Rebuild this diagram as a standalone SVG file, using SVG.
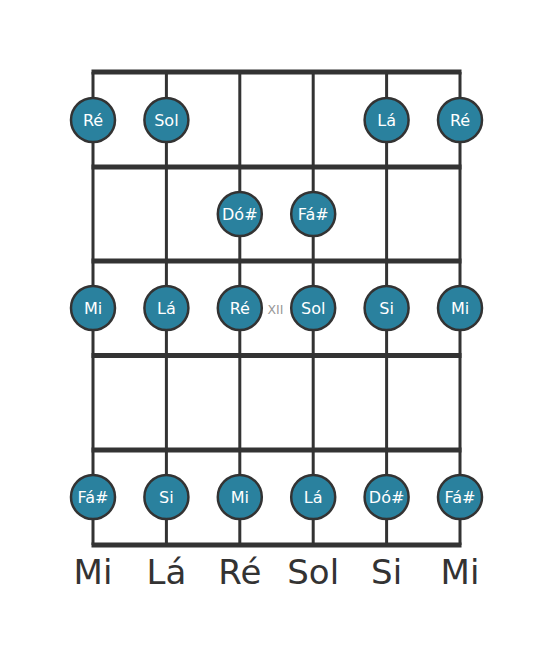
<svg xmlns="http://www.w3.org/2000/svg" width="553" height="656" viewBox="0 0 553 656">
<style>
.str{stroke:#333;stroke-width:3}
.fret{stroke:#333;stroke-width:5}
.n circle{fill:#2a819e;stroke:#333;stroke-width:2.5}
.n text{fill:#fff;font-family:"DejaVu Sans",sans-serif;font-size:16px;text-anchor:middle;dominant-baseline:central}
.lbl{fill:#333;font-family:"DejaVu Sans",sans-serif;font-size:34px;text-anchor:middle}
.fn{fill:#999;font-family:"DejaVu Sans",sans-serif;font-size:12.5px;text-anchor:middle;dominant-baseline:central}
</style>
<rect width="553" height="656" fill="#fff"/>
<g id="board">
<line class="str" x1="93" y1="72" x2="93" y2="545"/>
<line class="str" x1="166.4" y1="72" x2="166.4" y2="545"/>
<line class="str" x1="239.8" y1="72" x2="239.8" y2="545"/>
<line class="str" x1="313.2" y1="72" x2="313.2" y2="545"/>
<line class="str" x1="386.6" y1="72" x2="386.6" y2="545"/>
<line class="str" x1="460" y1="72" x2="460" y2="545"/>
<line class="fret" x1="91.5" y1="72" x2="461.5" y2="72"/>
<line class="fret" x1="91.5" y1="167" x2="461.5" y2="167"/>
<line class="fret" x1="91.5" y1="261" x2="461.5" y2="261"/>
<line class="fret" x1="91.5" y1="355.5" x2="461.5" y2="355.5"/>
<line class="fret" x1="91.5" y1="450" x2="461.5" y2="450"/>
<line class="fret" x1="91.5" y1="545" x2="461.5" y2="545"/>
</g>
<text class="fn" x="275.5" y="309">XII</text>
<g id="n1" class="n"><circle cx="93" cy="120" r="22"/><text x="93" y="120">Ré</text></g>
<g id="n2" class="n"><circle cx="166.4" cy="120" r="22"/><text x="166.4" y="120">Sol</text></g>
<g id="n3" class="n"><circle cx="386.6" cy="120" r="22"/><text x="386.6" y="120">Lá</text></g>
<g id="n4" class="n"><circle cx="460" cy="120" r="22"/><text x="460" y="120">Ré</text></g>
<g id="n5" class="n"><circle cx="239.8" cy="214" r="22"/><text x="239.8" y="214">Dó#</text></g>
<g id="n6" class="n"><circle cx="313.2" cy="214" r="22"/><text x="313.2" y="214">Fá#</text></g>
<g id="n7" class="n"><circle cx="93" cy="308" r="22"/><text x="93" y="308">Mi</text></g>
<g id="n8" class="n"><circle cx="166.4" cy="308" r="22"/><text x="166.4" y="308">Lá</text></g>
<g id="n9" class="n"><circle cx="239.8" cy="308" r="22"/><text x="239.8" y="308">Ré</text></g>
<g id="n10" class="n"><circle cx="313.2" cy="308" r="22"/><text x="313.2" y="308">Sol</text></g>
<g id="n11" class="n"><circle cx="386.6" cy="308" r="22"/><text x="386.6" y="308">Si</text></g>
<g id="n12" class="n"><circle cx="460" cy="308" r="22"/><text x="460" y="308">Mi</text></g>
<g id="n13" class="n"><circle cx="93" cy="497" r="22"/><text x="93" y="497">Fá#</text></g>
<g id="n14" class="n"><circle cx="166.4" cy="497" r="22"/><text x="166.4" y="497">Si</text></g>
<g id="n15" class="n"><circle cx="239.8" cy="497" r="22"/><text x="239.8" y="497">Mi</text></g>
<g id="n16" class="n"><circle cx="313.2" cy="497" r="22"/><text x="313.2" y="497">Lá</text></g>
<g id="n17" class="n"><circle cx="386.6" cy="497" r="22"/><text x="386.6" y="497">Dó#</text></g>
<g id="n18" class="n"><circle cx="460" cy="497" r="22"/><text x="460" y="497">Fá#</text></g>
<g id="labels">
<text class="lbl" x="93" y="584">Mi</text>
<text class="lbl" x="166.4" y="584">Lá</text>
<text class="lbl" x="239.8" y="584">Ré</text>
<text class="lbl" x="313.2" y="584">Sol</text>
<text class="lbl" x="386.6" y="584">Si</text>
<text class="lbl" x="460" y="584">Mi</text>
</g>
</svg>
